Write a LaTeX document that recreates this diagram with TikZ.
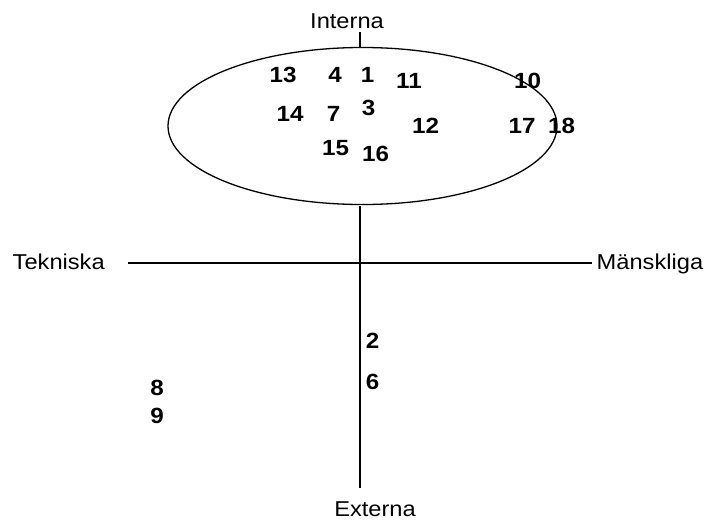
\documentclass[tikz,border=0pt]{standalone}
\usepackage{fontspec}
\setmainfont{Liberation Sans}[FakeStretch=1.1]
\usetikzlibrary{shapes.geometric}
\begin{document}
\begin{tikzpicture}[x=1pt,y=-1pt,
  axis/.style={line width=1.3pt},
  num/.style={font=\fontsize{22}{22}\selectfont\bfseries, inner sep=0pt},
  lab/.style={font=\fontsize{21.5}{22}\selectfont, inner sep=0pt}]
\useasboundingbox (0,0) rectangle (706,522);
% ellipse
\node[draw, ellipse, line width=1.3pt, minimum width=389pt, minimum height=157pt, inner sep=0pt] (ell) at (362.5,126) {};
% axes
\coordinate (top) at (360,32);
\coordinate (bot) at (360,488);
\coordinate (left) at (128,263);
\coordinate (right) at (592,263);
\coordinate (etop) at (360,47);
\coordinate (ebot) at (360,206);
\draw[axis] (top) -- (etop);
\draw[axis] (ebot) -- (bot);
\draw[axis] (left) -- (right);
% labels
\node[lab, anchor=base] (interna) at (347,28) {Interna};
\node[lab, anchor=base] (externa) at (375,516) {Externa};
\node[lab, anchor=base west] (tekniska) at (12.5,269) {Tekniska};
\node[lab, anchor=base west] (manskliga) at (596.5,269) {Mänskliga};
% numbers
\node[num] (n13) at (283,74.5) {13};
\node[num] (n4) at (335,75) {4};
\node[num] (n1) at (367.5,75) {1};
\node[num] (n11) at (409,80.5) {11};
\node[num] (n10) at (527.5,80.5) {10};
\node[num] (n14) at (290,114) {14};
\node[num] (n7) at (333.5,113.5) {7};
\node[num] (n3) at (368.5,108) {3};
\node[num] (n12) at (425.5,126) {12};
\node[num] (n17) at (522,126) {17};
\node[num] (n18) at (561.5,126) {18};
\node[num] (n15) at (335.5,148) {15};
\node[num] (n16) at (375.5,154) {16};
\node[num] (n2) at (372.5,341) {2};
\node[num] (n6) at (372.5,381.5) {6};
\node[num] (n8) at (157,388) {8};
\node[num] (n9) at (157,416) {9};
\end{tikzpicture}
\end{document}
